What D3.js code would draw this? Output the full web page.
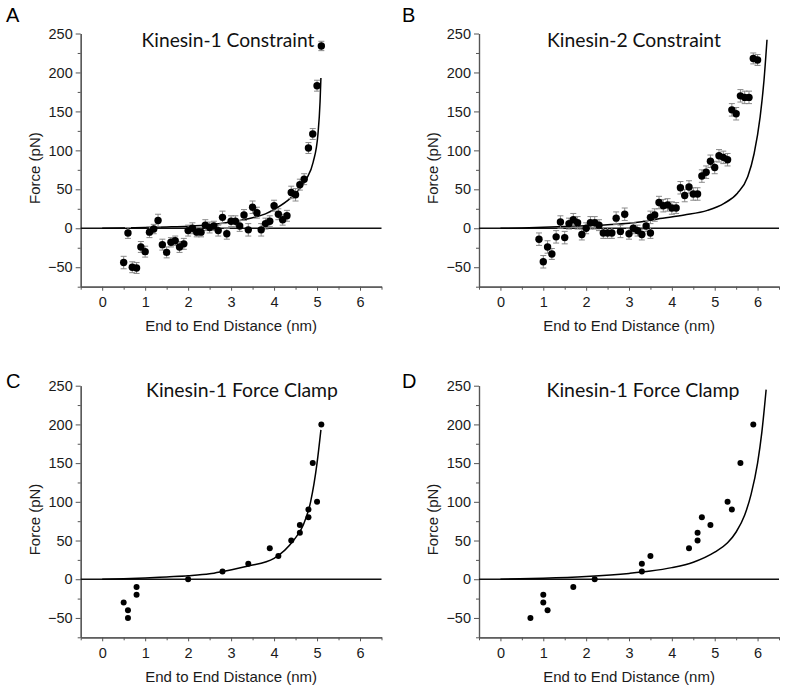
<!DOCTYPE html>
<html><head><meta charset="utf-8">
<script src="https://cdn.jsdelivr.net/npm/d3@7/dist/d3.min.js"></script>
<style>body{margin:0;background:#fff}</style>
</head><body>
<svg id="chart" width="785" height="691" xmlns="http://www.w3.org/2000/svg"></svg>
<script>
// ---------- data ----------
const xTicks = [0, 1, 2, 3, 4, 5, 6];
const xMinorTicks = [-0.5, 0.5, 1.5, 2.5, 3.5, 4.5, 5.5, 6.5];
const yTicks = [-50, 0, 50, 100, 150, 200, 250];
const yMinorTicks = [-75, -25, 25, 75, 125, 175, 225];
const panelLabels = ["A", "B", "C", "D"];
const titles = ["Kinesin-1 Constraint", "Kinesin-2 Constraint", "Kinesin-1 Force Clamp", "Kinesin-1 Force Clamp"];
const xLabel = "End to End Distance (nm)";
const yLabel = "Force (pN)";

// Panel A: Kinesin-1 constraint
const aX = [0.5,0.6,0.7,0.8,0.9,1.0,1.1,1.2,1.3,1.4,1.5,1.6,1.7,1.8,1.9,2.0,2.1,2.2,2.3,2.4,2.5,2.6,2.7,2.8,2.9,3.0,3.1,3.2,3.3,3.4,3.5,3.6,3.7,3.8,3.9,4.0,4.1,4.2,4.3,4.4,4.5,4.6,4.7,4.8,4.9,5.0,5.1];
const aY = [-44,-6,-50,-51,-24,-30,-5,-1,10,-21,-31,-18,-16,-24,-20,-3,0,-5,-5,4,1,3,-3,14,-7,9,9,3,17,-2,27,20,-2,6,9,29,18,11,16,46,43,56,63,103,121,183,234];
const aErr = [8,7,7,7,7,7,7,6,8,7,7,6,6,7,7,7,7,6,6,7,7,6,7,8,7,7,7,7,7,8,8,7,8,7,7,7,7,7,7,8,8,7,7,7,7,7,6];
const aFitX = [0,0.5,1,1.5,2,2.5,3,3.5,3.8,4.06,4.37,4.6,4.76,4.91,5.02,5.07,5.09];
const aFitY = [0,0.3,0.9,1.7,2.7,4.5,8,13.5,18.5,26,38,51,64,85,120,162,193];

// Panel B: Kinesin-2 constraint
const bX = [0.9,1.0,1.1,1.2,1.3,1.4,1.5,1.6,1.7,1.8,1.9,2.0,2.1,2.2,2.3,2.4,2.5,2.6,2.7,2.8,2.9,3.0,3.1,3.2,3.3,3.4,3.5,3.5,3.6,3.7,3.8,3.9,4.0,4.1,4.2,4.3,4.4,4.5,4.6,4.7,4.8,4.9,5.0,5.1,5.2,5.3,5.4,5.5,5.6,5.7,5.8,5.9,6.0];
const bY = [-14,-43,-24,-33,-11,8,-12,6,11,7,-8,0,7,7,4,-6,-6,-6,13,-4,18,-7,0,-3,-8,3,-6,14,17,33,29,30,26,26,52,42,53,44,44,67,72,86,78,93,91,88,152,147,170,168,168,218,216];
const bErr = [8,8,8,7,8,8,8,7,8,8,7,7,8,8,7,7,7,7,8,8,8,7,7,7,7,7,7,8,8,8,8,8,8,7,8,8,8,8,8,8,8,8,8,8,8,8,8,8,8,8,8,7,7];
const bFitX = [0,0.5,1,1.5,2,2.5,3,3.3,3.67,4.29,4.83,5.22,5.53,5.77,5.92,6.06,6.15,6.22];
const bFitY = [0,0.4,1.2,2.2,3.3,4.6,6.5,8.5,12,17,23,32,45,66,96,143,190,242];

// Panel C: Kinesin-1 force clamp
const cX = [0.5,0.6,0.6,0.8,0.8,2.0,2.8,3.4,3.9,4.1,4.4,4.6,4.6,4.8,4.8,4.9,5.0,5.1];
const cY = [-30,-40,-50,-10,-20,0,10,20,40,30,50,60,70,80,90,150,100,200];
const cFitX = [0,0.5,1,1.5,2,2.5,2.8,3.4,4.0,4.45,4.68,4.85,5.0,5.09];
const cFitY = [0,0.5,1.5,3,4.5,7,10,17,27,50,70,100,150,193];

// Panel D: Kinesin-1 force clamp
const dX = [0.7,1.0,1.0,1.1,1.7,2.2,3.3,3.3,3.5,4.4,4.6,4.6,4.7,4.9,5.3,5.4,5.6,5.9];
const dY = [-50,-20,-30,-40,-10,0,10,20,30,40,50,60,80,70,100,90,150,200];
const dFitX = [0,1,2,3,3.5,4.0,4.5,5.0,5.3,5.5,5.7,5.85,6.0,6.1,6.2];
const dFitY = [0,1.3,3.6,7.5,10.5,15,22,35,47,61,83,110,150,190,245];

// ---------- layout ----------
const panels = [
  {label: panelLabels[0], title: titles[0], xs: aX, ys: aY, err: aErr, fx: aFitX, fy: aFitY,
   xr: [80.7, 381.5], yr: [286.7, 33.5], ox: 0, oy: 0, r: 3.7, titleX: 228, titleY: 47, titleW: 173},
  {label: panelLabels[1], title: titles[1], xs: bX, ys: bY, err: bErr, fx: bFitX, fy: bFitY,
   xr: [479, 779], yr: [286.7, 33.5], ox: 396, oy: 0, r: 3.7, titleX: 634, titleY: 47, titleW: 174},
  {label: panelLabels[2], title: titles[2], xs: cX, ys: cY, err: null, fx: cFitX, fy: cFitY,
   xr: [80.7, 381.5], yr: [637.3, 385.7], ox: 0, oy: 366, r: 3, titleX: 242, titleY: 397, titleW: 192},
  {label: panelLabels[3], title: titles[3], xs: dX, ys: dY, err: null, fx: dFitX, fy: dFitY,
   xr: [479, 779], yr: [637.3, 385.7], ox: 396, oy: 366, r: 3, titleX: 643, titleY: 397, titleW: 193}
];

const svg = d3.select("#chart");
const numFont = "'Liberation Sans', Arial, sans-serif";
const titleFont = "Lato, 'Open Sans', sans-serif";
const axisColor = "#555";
const fmt = d3.format("d");

panels.forEach(p => {
  const x = d3.scaleLinear().domain([-0.5, 6.5]).range(p.xr);
  const y = d3.scaleLinear().domain([-75, 250]).range(p.yr);
  const g = svg.append("g");

  // axes
  const yAxis = g.append("g").attr("transform", `translate(${p.xr[0]},0)`)
    .call(d3.axisLeft(y).tickValues(yTicks).tickFormat(fmt).tickSize(5).tickSizeOuter(0).tickPadding(3));
  const yMinor = g.append("g").attr("transform", `translate(${p.xr[0]},0)`)
    .call(d3.axisLeft(y).tickValues(yMinorTicks).tickSize(3).tickSizeOuter(0).tickFormat(""));
  const xAxis = g.append("g").attr("transform", `translate(0,${p.yr[0]})`)
    .call(d3.axisBottom(x).tickValues(xTicks).tickFormat(fmt).tickSize(4).tickSizeOuter(0).tickPadding(6));
  const xMinor = g.append("g").attr("transform", `translate(0,${p.yr[0]})`)
    .call(d3.axisBottom(x).tickValues(xMinorTicks).tickSize(3).tickSizeOuter(0).tickFormat(""));
  [yAxis, yMinor, xAxis, xMinor].forEach(a => {
    a.selectAll("path.domain").attr("stroke", axisColor).attr("stroke-width", 1.2);
    a.selectAll(".tick line").attr("stroke", axisColor).attr("stroke-width", 1);
    a.selectAll(".tick text").attr("fill", "#1a1a1a")
      .style("font-family", numFont).style("font-size", "14.5px");
  });

  // zero line
  g.append("line")
    .attr("x1", x(-0.5)).attr("x2", x(6.5))
    .attr("y1", y(0)).attr("y2", y(0))
    .attr("stroke", "#111").attr("stroke-width", 1.6);

  // fit curve
  const fit = p.fx.map((v, i) => [v, p.fy[i]]);
  g.append("path").datum(fit)
    .attr("fill", "none").attr("stroke", "#000").attr("stroke-width", 1.5)
    .attr("d", d3.line().x(d => x(d[0])).y(d => y(d[1])).curve(d3.curveMonotoneX));

  const pts = p.xs.map((v, i) => ({x: v, y: p.ys[i], e: p.err ? p.err[i] : 0}));

  // error bars
  if (p.err) {
    const eb = g.append("g").attr("stroke", "#8a8a8a").attr("stroke-width", 1);
    pts.forEach(d => {
      const cx = x(d.x), y1 = y(d.y - d.e), y2 = y(d.y + d.e);
      eb.append("line").attr("x1", cx).attr("x2", cx).attr("y1", y1).attr("y2", y2);
      eb.append("line").attr("x1", cx - 3).attr("x2", cx + 3).attr("y1", y1).attr("y2", y1);
      eb.append("line").attr("x1", cx - 3).attr("x2", cx + 3).attr("y1", y2).attr("y2", y2);
    });
  }

  // points
  g.selectAll("circle.pt").data(pts).join("circle")
    .attr("class", "pt")
    .attr("cx", d => x(d.x)).attr("cy", d => y(d.y)).attr("r", p.r)
    .attr("fill", "#000");

  // title
  const t = g.append("text")
    .attr("x", p.titleX).attr("y", p.titleY)
    .attr("text-anchor", "middle")
    .style("font-family", titleFont).style("font-size", "19px").attr("fill", "#111")
    .text(p.title);
  const w = t.node().getComputedTextLength();
  if (w > 0) t.style("font-size", (19 * p.titleW / w).toFixed(2) + "px");

  // panel label
  g.append("text")
    .attr("x", p.ox + 6).attr("y", p.oy + 22)
    .style("font-family", numFont).style("font-size", "20px").attr("fill", "#000")
    .text(p.label);

  // axis titles
  g.append("text")
    .attr("x", (p.xr[0] + p.xr[1]) / 2).attr("y", p.yr[0] + 44.5)
    .attr("text-anchor", "middle")
    .style("font-family", numFont).style("font-size", "15px").attr("fill", "#1a1a1a")
    .text(xLabel);
  g.append("text")
    .attr("transform", `translate(${p.xr[0] - 41},${(p.yr[0] + p.yr[1]) / 2 + 8}) rotate(-90)`)
    .attr("text-anchor", "middle")
    .style("font-family", numFont).style("font-size", "15px").attr("fill", "#1a1a1a")
    .text(yLabel);
});
</script>
</body></html>
